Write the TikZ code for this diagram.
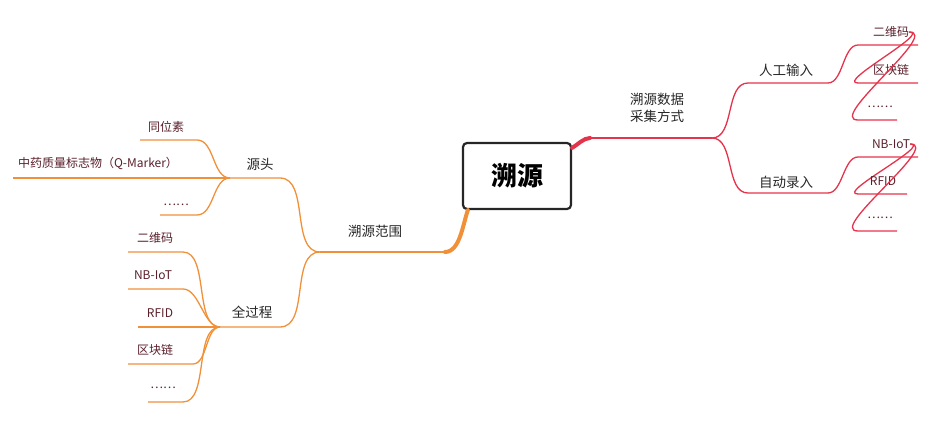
\documentclass[tikz,border=0pt]{standalone}
\usepackage{fontspec}
\setmainfont{Noto Sans CJK SC}
\begin{document}
\begin{tikzpicture}[x=1pt,y=-1pt,
  rl/.style={draw=redc,line width=1.3pt},
  ol/.style={draw=orac,line width=1.3pt},
  cv/.style={out=180,in=0,looseness=0.9},
  cvr/.style={out=0,in=180,looseness=0.9},
  leaf/.style={text=leafc,font=\fontsize{12}{14}\selectfont,inner sep=0pt},
  mid/.style={text=black!85,font=\fontsize{13.5}{17}\selectfont,inner sep=0pt,align=center}]
\definecolor{redc}{HTML}{E5334B}
\definecolor{orac}{HTML}{F0913A}
\definecolor{leafc}{HTML}{5A1F2B}
\useasboundingbox (0,0) rectangle (938,425);
\node[draw=black!85,line width=2.2pt,rounded corners=4pt,minimum width=108pt,minimum height=66pt,font=\fontsize{26}{30}\selectfont\bfseries] (root) at (517,176) {溯源};
% right side
\coordinate (r0) at (590,138); \coordinate (r1) at (712,138);
\draw[redc,line width=4pt,line cap=round] (root.north east)++(0,6) to[out=-30+60,in=180,looseness=0.8] (r0);
\draw[rl] (r0) -- (r1);
\node[mid] (rt) at (657,108) {溯源数据\\采集方式};
\coordinate (a0) at (748,83); \coordinate (a1) at (828,83);
\coordinate (b0) at (748,193); \coordinate (b1) at (828,193);
\draw[rl] (r1) to[cvr] (a0) -- (a1);
\draw[rl] (r1) to[cvr] (b0) -- (b1);
\node[mid] (at) at (786,70) {人工输入};
\node[mid] (bt) at (786,182) {自动录入};
\foreach \n/\y/\e/\t/\tx in {a1/45/918/二维码/891, a2/83/918/区块链/891, a3/120/897/……/880}{
  \draw[rl] (a1) to[cvr,looseness=0.8] (858,\y) -- (\e,\y);
  \node[leaf] (\n) at (\tx,\y-13) {\t};}
\foreach \n/\y/\e/\t/\tx in {b1/157/918/NB-IoT/891, b2/194/907/RFID/883, b3/231/897/……/880}{
  \draw[rl] (b1) to[cvr,looseness=0.8] (858,\y) -- (\e,\y);
  \node[leaf] (\n) at (\tx,\y-13) {\t};}
% left side
\coordinate (l0) at (445,252); \coordinate (l1) at (320,252);
\draw[orac,line width=4pt,line cap=round] (root.south west)++(6,0) to[out=-110,in=0,looseness=0.8] (l0);
\draw[ol] (l0) -- (l1);
\node[mid] (lt) at (375,231) {溯源范围};
\coordinate (s0) at (280,178); \coordinate (s1) at (230,178);
\coordinate (g0) at (280,327); \coordinate (g1) at (220,327);
\draw[ol] (l1) to[cv] (s0) -- (s1);
\draw[ol] (l1) to[cv] (g0) -- (g1);
\node[mid] (st) at (260,164) {源头};
\node[mid] (gt) at (252,312) {全过程};
\draw[ol] (s1) to[cv] (197,140) -- (140,140);
\node[leaf] (s1t) at (166,127) {同位素};
\draw[ol] (s1) -- (13,178);
\node[leaf] (s2t) at (98,163) {中药质量标志物（Q-Marker）};
\draw[ol] (s1) to[cv] (197,215) -- (160,215);
\node[leaf] (s3t) at (176,205) {……};
\foreach \n/\y/\s/\e/\t/\tx in {g1t/252/183/128/二维码/155, g2t/289/183/128/NB-IoT/153, g4t/364/193/128/区块链/155, g5t/402/183/148/……/163}{
  \draw[ol] (g1) to[cv,looseness=0.8] (\s,\y) -- (\e,\y);
  \node[leaf] (\n) at (\tx,\y-14) {\t};}
\draw[ol] (g1) -- (138,327);
\node[leaf] (g3t) at (160,313) {RFID};
\end{tikzpicture}
\end{document}
